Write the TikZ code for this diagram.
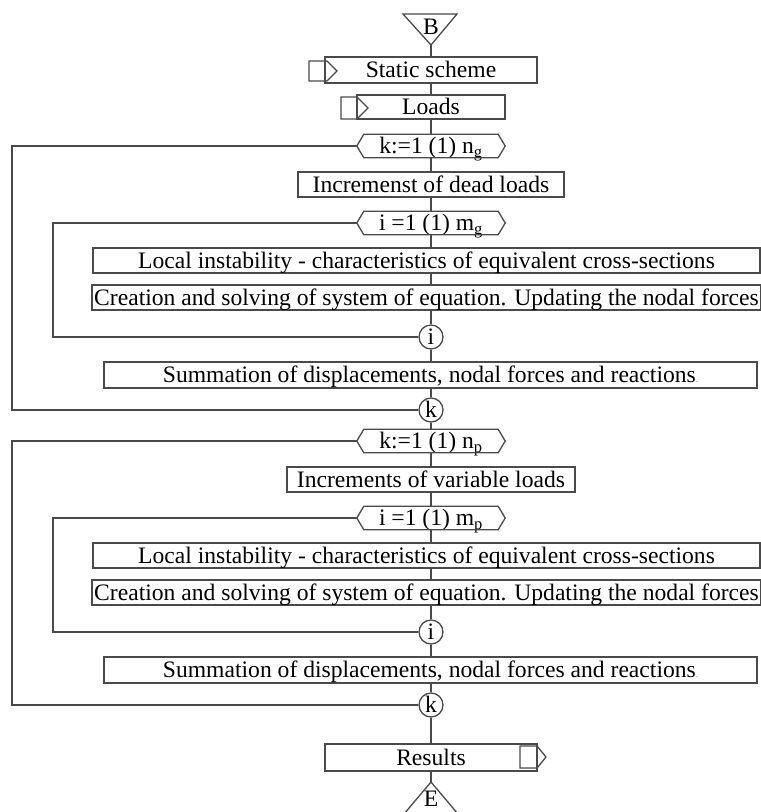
\documentclass[tikz,border=0pt]{standalone}
\usepackage{fontspec}
\setmainfont{Liberation Serif}
\usetikzlibrary{calc}
\definecolor{ln}{HTML}{4A4A4A}
\tikzset{
  every node/.style={font=\fontsize{23.6}{26}\selectfont, text=black},
  box/.style={draw=ln, line width=1.4pt, rectangle, inner sep=0pt, minimum height=25pt, text height=15.6pt, text depth=0pt},
  hexn/.style={rectangle, inner sep=0pt, minimum width=148pt, minimum height=23pt, text height=15.6pt, text depth=0pt},
  conn/.style={draw=ln, line width=1.3pt},
  circ/.style={draw=ln, line width=1.3pt, circle, inner sep=0pt, minimum size=24pt, text height=15pt, text depth=0pt},
  lbl/.style={inner sep=0pt, text height=15.6pt, text depth=0pt},
}
\newcommand\hexaround[1]{\draw[conn] (#1.west) -- ([xshift=7pt]#1.north west) -- ([xshift=-7pt]#1.north east) -- (#1.east) -- ([xshift=-7pt]#1.south east) -- ([xshift=7pt]#1.south west) -- cycle;}
\begin{document}
\begin{tikzpicture}[x=1pt,y=-1pt]
\useasboundingbox (0,0) rectangle (761,812);
\fill[white] (0,0) rectangle (761,812);

% begin triangle
\draw[conn] (403,14) -- (457,14) -- (431,45) -- cycle;
\node[lbl] (B) at (431,27) {B};
\coordinate (Bapex) at (431,45);

\node[box, minimum width=212pt, minimum height=26pt] (ss) at (431,70) {Static scheme};
\draw[conn] (309,61) -- (327,61) -- (337,71) -- (327,81) -- (309,81) -- cycle;
\node[box, minimum width=148pt, minimum height=24pt] (loads) at (431,107) {Loads};
\draw[conn] (341,97) -- (357,97) -- (368,108) -- (357,119) -- (341,119) -- cycle;

% first block
\node[hexn] (hk1) at (431,146) {k:=1 (1) n\textsubscript{g}};
\hexaround{hk1}
\node[box, minimum width=266pt] (inc1) at (431,184.5) {Incremenst of dead loads};
\node[hexn] (ih1) at (431,223) {i =1 (1) m\textsubscript{g}};
\hexaround{ih1}
\node[box, minimum width=667pt] (loc1) at (426.5,260.5) {Local instability - characteristics of equivalent cross-sections};
\node[box, minimum width=669pt] (cre1) at (426.5,297.5) {Creation and solving of system of equation. Updating the nodal forces};
\node[circ] (ic1) at (431,337) {i};
\node[box, minimum width=653pt, minimum height=26pt] (sum1) at (430.5,375) {Summation of displacements, nodal forces and reactions{\color{gray}\small.}};
\node[circ] (kc1) at (431,410) {k};

% second block
\node[hexn] (hk2) at (431,441) {k:=1 (1) n\textsubscript{p}};
\hexaround{hk2}
\node[box, minimum width=288pt] (inc2) at (431,479.5) {Increments of variable loads};
\node[hexn] (ih2) at (431,518) {i =1 (1) m\textsubscript{p}};
\hexaround{ih2}
\node[box, minimum width=667pt] (loc2) at (426.5,555.5) {Local instability - characteristics of equivalent cross-sections};
\node[box, minimum width=669pt] (cre2) at (426.5,592.5) {Creation and solving of system of equation. Updating the nodal forces};
\node[circ] (ic2) at (431,632) {i};
\node[box, minimum width=653pt, minimum height=26pt] (sum2) at (430.5,670) {Summation of displacements, nodal forces and reactions{\color{gray}\small.}};
\node[circ] (kc2) at (431,705) {k};

\node[box, minimum width=212pt, minimum height=27pt] (res) at (431,757.5) {Results};
\draw[conn] (520,746) -- (537,746) -- (546,757) -- (537,768) -- (520,768) -- cycle;

% end triangle
\coordinate (Eapex) at (431,782);
\draw[conn] (404,814) -- (431,782) -- (458,814);
\node[lbl] (E) at (431,799) {E};

% vertical connectors
\draw[conn] (Bapex) -- (ss.north);
\draw[conn] (ss.south) -- (loads.north);
\draw[conn] (loads.south) -- (hk1.north);
\draw[conn] (hk1.south) -- (inc1.north);
\draw[conn] (inc1.south) -- (ih1.north);
\draw[conn] (ih1.south) -- (ih1.south |- loc1.north);
\draw[conn] (ih1.south |- loc1.south) -- (ih1.south |- cre1.north);
\draw[conn] (ih1.south |- cre1.south) -- (ic1.north);
\draw[conn] (ic1.south) -- (ic1.south |- sum1.north);
\draw[conn] (ic1.south |- sum1.south) -- (kc1.north);
\draw[conn] (kc1.south) -- (hk2.north);
\draw[conn] (hk2.south) -- (inc2.north);
\draw[conn] (inc2.south) -- (ih2.north);
\draw[conn] (ih2.south) -- (ih2.south |- loc2.north);
\draw[conn] (ih2.south |- loc2.south) -- (ih2.south |- cre2.north);
\draw[conn] (ih2.south |- cre2.south) -- (ic2.north);
\draw[conn] (ic2.south) -- (ic2.south |- sum2.north);
\draw[conn] (ic2.south |- sum2.south) -- (kc2.north);
\draw[conn] (kc2.south) -- (res.north);
\draw[conn] (res.south) -- (Eapex);

% loops
\coordinate (o1) at (12,146);
\coordinate (n1) at (53,223);
\coordinate (o2) at (12,441);
\coordinate (n2) at (53,518);
\draw[conn] (hk1.west) -- (o1) |- (kc1.west);
\draw[conn] (ih1.west) -- (n1) |- (ic1.west);
\draw[conn] (hk2.west) -- (o2) |- (kc2.west);
\draw[conn] (ih2.west) -- (n2) |- (ic2.west);
\end{tikzpicture}
\end{document}
